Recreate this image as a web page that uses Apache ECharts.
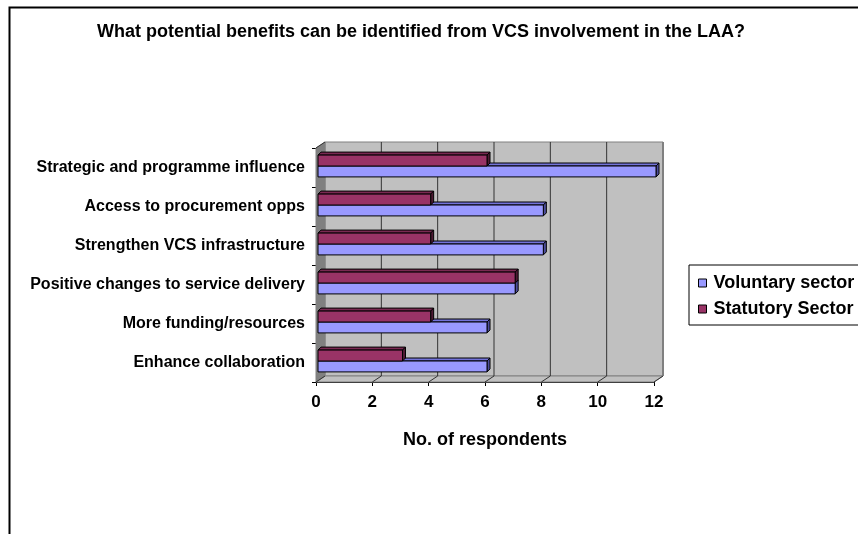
<!DOCTYPE html>
<html>
<head>
<meta charset="utf-8">
<script src="https://cdn.jsdelivr.net/npm/echarts@6/dist/echarts.min.js"></script>
<style>
  html, body { margin: 0; padding: 0; background: #fff; }
  #chart { width: 858px; height: 534px; }
</style>
</head>
<body>
<div id="chart"></div>
<script>
// Benefit categories, listed top to bottom
const categories = [
  'Strategic and programme influence',
  'Access to procurement opps',
  'Strengthen VCS infrastructure',
  'Positive changes to service delivery',
  'More funding/resources',
  'Enhance collaboration'
];
// Respondent counts per sector
const voluntary = [12, 8, 8, 7, 6, 6];
const statutory = [6, 4, 4, 7, 4, 3];
// Value axis tick labels
const xTicks = [0, 2, 4, 6, 8, 10, 12];

const FONT = 'Liberation Sans, Arial, sans-serif';
const DEPTH_X = 9, DEPTH_Y = -6;     // offset from front plane to back wall
const BAR_DX = 2, BAR_DY = -1.5;     // bars sit a little behind the front plane
const BAR_D = 3;                     // visible thickness of each 3D bar

const palette = {
  voluntary: { front: '#9999FF', top: '#7373D9', side: '#4D4D99' },
  statutory: { front: '#993366', top: '#7A2952', side: '#4D1A33' }
};

function barRenderer(kind) {
  const c = palette[kind];
  return function (params, api) {
    const cat = api.value(1);
    const val = api.value(0);
    const p0 = api.coord([0, cat]);
    const p1 = api.coord([val, cat]);
    const band = api.size([0, 1])[1];
    const h = band * 0.28;
    const cy = p0[1] + BAR_DY;
    const y0 = kind === 'voluntary' ? cy : cy - h;
    const x0 = p0[0] + BAR_DX;
    const x1 = p1[0] + BAR_DX;
    const stroke = { stroke: '#000', lineWidth: 1 };
    return {
      type: 'group',
      children: [
        { type: 'polygon', shape: { points: [[x0, y0], [x0 + BAR_D, y0 - BAR_D], [x1 + BAR_D, y0 - BAR_D], [x1, y0]] },
          style: Object.assign({ fill: c.top }, stroke) },
        { type: 'polygon', shape: { points: [[x1, y0], [x1 + BAR_D, y0 - BAR_D], [x1 + BAR_D, y0 + h - BAR_D], [x1, y0 + h]] },
          style: Object.assign({ fill: c.side }, stroke) },
        { type: 'rect', shape: { x: x0, y: y0, width: x1 - x0, height: h },
          style: Object.assign({ fill: c.front }, stroke) }
      ]
    };
  };
}

// Back wall, side wall and floor of the plot box
function wallRenderer(params, api) {
  const cs = params.coordSys;
  const L = cs.x, T = cs.y, R = cs.x + cs.width, B = cs.y + cs.height;
  const dx = DEPTH_X, dy = DEPTH_Y;
  const last = xTicks[xTicks.length - 1];
  const children = [
    { type: 'polygon', shape: { points: [[L + dx, T + dy], [R + dx, T + dy], [R + dx, B + dy], [L + dx, B + dy]] },
      style: { fill: '#C0C0C0', stroke: '#808080', lineWidth: 1 } },
    { type: 'polygon', shape: { points: [[L, B], [L + dx, B + dy], [R + dx, B + dy], [R, B]] },
      style: { fill: '#C0C0C0', stroke: '#808080', lineWidth: 1 } },
    { type: 'polygon', shape: { points: [[L, T], [L + dx, T + dy], [L + dx, B + dy], [L, B]] },
      style: { fill: '#808080', stroke: '#808080', lineWidth: 1 } }
  ];
  xTicks.forEach(function (v) {
    const x = api.coord([v, 0])[0];
    if (v > 0) {
      children.push({ type: 'line', shape: { x1: x + dx, y1: T + dy, x2: x + dx, y2: B + dy },
        style: { stroke: v === last ? '#808080' : '#333', lineWidth: v === last ? 2 : 1 } });
    }
    children.push({ type: 'line', shape: { x1: x, y1: B, x2: x + dx, y2: B + dy },
      style: { stroke: '#333', lineWidth: 1 } });
  });
  children.push({ type: 'line', shape: { x1: L, y1: T, x2: L + dx, y2: T + dy }, style: { stroke: '#333', lineWidth: 1 } });
  return { type: 'group', children: children };
}

const chart = echarts.init(document.getElementById('chart'), null, { renderer: 'canvas' });

chart.setOption({
  backgroundColor: '#fff',
  animation: false,
  title: {
    text: 'What potential benefits can be identified from VCS involvement in the LAA?',
    left: 97,
    top: 23,
    padding: 0,
    textStyle: { fontFamily: FONT, fontSize: 18, fontWeight: 'bold', color: '#000' }
  },
  graphic: [
    { type: 'rect', left: 7, top: 5, shape: { width: 900, height: 600 }, style: { fill: 'none', stroke: '#000', lineWidth: 2 }, z: 100, silent: true }
  ],
  legend: {
    orient: 'vertical',
    left: 689,
    top: 265,
    padding: [8, 20, 6, 9],
    itemWidth: 8,
    itemHeight: 8,
    itemGap: 6,
    icon: 'rect',
    borderColor: '#000',
    borderWidth: 1,
    itemStyle: { borderColor: '#000', borderWidth: 1 },
    textStyle: { fontFamily: FONT, fontSize: 18, fontWeight: 'bold', color: '#000', lineHeight: 20, padding: [0, 0, 0, 2] },
    data: ['Voluntary sector', 'Statutory Sector']
  },
  grid: { left: 316, right: 204, top: 148, bottom: 152 },
  xAxis: {
    type: 'value',
    min: xTicks[0],
    max: xTicks[xTicks.length - 1],
    interval: 2,
    name: 'No. of respondents',
    nameLocation: 'middle',
    nameGap: 49,
    nameTextStyle: { fontFamily: FONT, fontSize: 18, fontWeight: 'bold', color: '#000' },
    axisLine: { show: true, lineStyle: { color: '#000', width: 1 } },
    axisTick: { show: true, length: 4, lineStyle: { color: '#000' } },
    axisLabel: { margin: 12, fontFamily: FONT, fontSize: 17, fontWeight: 'bold', color: '#000' },
    splitLine: { show: false }
  },
  yAxis: {
    type: 'category',
    inverse: true,
    data: categories,
    axisLine: { show: true, lineStyle: { color: '#000', width: 1 } },
    axisTick: { show: true, length: 4, alignWithLabel: false, lineStyle: { color: '#000' } },
    axisLabel: { margin: 11, fontFamily: FONT, fontSize: 16, fontWeight: 'bold', color: '#000' },
    splitLine: { show: false }
  },
  series: [
    {
      type: 'custom',
      name: 'walls',
      silent: true,
      clip: false,
      z: 1,
      renderItem: wallRenderer,
      encode: { x: 0, y: 1 },
      data: [[0, 0]]
    },
    {
      type: 'custom',
      name: 'Voluntary sector',
      clip: false,
      z: 2,
      itemStyle: { color: palette.voluntary.front, borderColor: '#000' },
      renderItem: barRenderer('voluntary'),
      encode: { x: 0, y: 1 },
      data: voluntary.map(function (v, i) { return [v, i]; })
    },
    {
      type: 'custom',
      name: 'Statutory Sector',
      clip: false,
      z: 3,
      itemStyle: { color: palette.statutory.front, borderColor: '#000' },
      renderItem: barRenderer('statutory'),
      encode: { x: 0, y: 1 },
      data: statutory.map(function (v, i) { return [v, i]; })
    }
  ]
});
</script>
</body>
</html>
